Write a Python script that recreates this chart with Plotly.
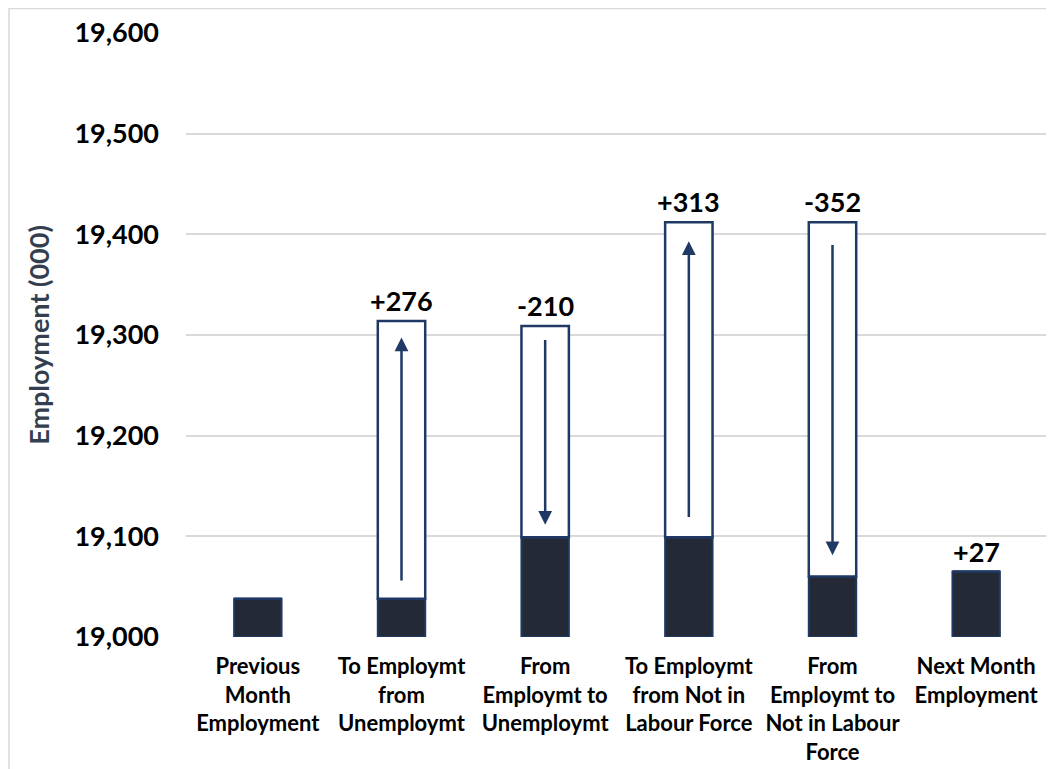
import plotly.graph_objects as go

categories = [
    "Previous<br>Month<br>Employment",
    "To Employmt<br>from<br>Unemploymt",
    "From<br>Employmt to<br>Unemploymt",
    "To Employmt<br>from Not in<br>Labour Force",
    "From<br>Employmt to<br>Not in Labour<br>Force",
    "Next Month<br>Employment",
]
base_level = [19038, 19038, 19099, 19099, 19060, 19065]
flow_size = [0, 276, 210, 313, 352, 0]
flow_dir = [0, 1, -1, 1, -1, 0]
labels = ["", "+276", "-210", "+313", "-352", "+27"]
y_ticks = [19000, 19100, 19200, 19300, 19400, 19500, 19600]

AXIS_MIN = 19000
DARK = "#242A35"
NAVY = "#203864"
FONT = "Lato"

W, H = 1054, 769
ML, MR, MT, MB = 178, 14, 25, 140
PW, PH = W - ML - MR, H - MT - MB

fig = go.Figure()

# dark base bars
fig.add_trace(go.Bar(
    x=categories,
    y=[b - AXIS_MIN for b in base_level],
    base=AXIS_MIN,
    width=0.33,
    marker=dict(color=DARK, line=dict(color=NAVY, width=2)),
    hoverinfo="skip",
))
# white flow boxes
fig.add_trace(go.Bar(
    x=categories,
    y=flow_size,
    base=base_level,
    width=0.33,
    marker=dict(color="white", line=dict(color=NAVY, width=2.5)),
    hoverinfo="skip",
))

# arrows inside the flow boxes and value labels
for c, b, f, d, lab in zip(categories, base_level, flow_size, flow_dir, labels):
    top = b + f
    if d != 0:
        inset = 0.06 * f
        lo, hi = b + inset, top - inset
        head, tail = (hi, lo) if d > 0 else (lo, hi)
        fig.add_annotation(
            x=c, y=head, ax=c, ay=tail, xref="x", yref="y", axref="x", ayref="y",
            showarrow=True, arrowhead=2, arrowsize=1.1, arrowwidth=2.5,
            arrowcolor=NAVY, text="",
        )
    if lab:
        fig.add_annotation(
            x=c, y=top, xref="x", yref="y", text=lab, showarrow=False,
            yanchor="bottom", yshift=2,
            font=dict(family=FONT, size=27, color="black", weight="bold"),
        )

# outer chart border
fig.add_shape(type="rect", xref="paper", yref="paper",
              x0=-(ML - 1) / PW, x1=1.05, y0=-0.4, y1=1 + (MT - 0.5) / PH,
              line=dict(color="#D9D9D9", width=1.5), layer="below")

fig.update_layout(
    width=W, height=H,
    margin=dict(l=ML, r=MR, t=MT, b=MB, autoexpand=False),
    plot_bgcolor="white", paper_bgcolor="white",
    barmode="overlay",
    showlegend=False,
    font=dict(family=FONT, color="black"),
)
fig.update_xaxes(
    automargin=False,
    showgrid=False, showline=False, ticks="",
    tickfont=dict(family=FONT, size=22, color="black", weight="bold"),
    ticklabelstandoff=14,
)
fig.update_yaxes(
    automargin=False,
    range=[AXIS_MIN, 19600],
    tickvals=y_ticks, tickformat=",d",
    showgrid=True, gridcolor="#D9D9D9", gridwidth=1.5,
    zeroline=False, showline=False,
    tickfont=dict(family=FONT, size=27, color="black", weight="bold"),
    ticklabelstandoff=26,
    title=dict(text="Employment (000)", standoff=16,
               font=dict(family=FONT, size=27, color="#333F50", weight="bold")),
)

fig.write_html("out.html")
